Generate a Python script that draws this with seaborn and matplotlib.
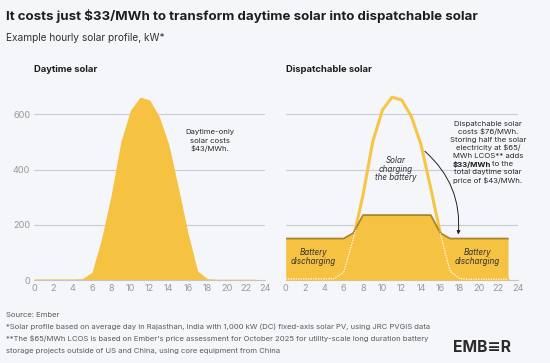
import matplotlib
matplotlib.use("Agg")
import matplotlib.pyplot as plt
import numpy as np
import pandas as pd
import seaborn as sns

# ---------------- data ----------------
hours = list(range(24))
solar_kw = [4, 4, 4, 4, 4, 5, 28, 150, 308, 500, 615, 662, 652, 592, 490, 333, 168, 32, 5, 3, 3, 3, 3, 3]
dispatch_kw = [150, 150, 150, 150, 150, 150, 150, 170, 235, 235, 235, 235, 235, 235, 235, 235,
               170, 150, 150, 150, 150, 150, 150, 150]
x_ticks = list(range(0, 25, 2))
y_ticks = [0, 200, 400, 600]

df = pd.DataFrame({"hour": hours, "solar": solar_kw, "dispatch": dispatch_kw})

# ---------------- style ----------------
BG = "#F5F6FA"
FILL = "#F5C242"
LINE_Y = "#F6C646"
LINE_D = "#A8852E"
GRID = "#C9CDD6"
TICK = "#9A9A9A"
DARK = "#1E1E1E"

sns.set_theme(style="white")
FONT = ["Inter", "DejaVu Sans"]
plt.rcParams["font.family"] = FONT
plt.rcParams["axes.facecolor"] = BG
plt.rcParams["figure.facecolor"] = BG

W, H = 550, 363
fig = plt.figure(figsize=(W / 100, H / 100), dpi=100)


def fx(px):
    return px / W


def fy(py):
    return 1 - py / H


y_top = 700
ax_bottom_px = 280.0
ax_h_px = 700 * (165.7 / 600)
axL = fig.add_axes([fx(34.3), fy(ax_bottom_px), fx(265.0) - fx(34.3), ax_h_px / H])
axR = fig.add_axes([fx(285.7), fy(ax_bottom_px), fx(517.7) - fx(285.7), ax_h_px / H])

for ax in (axL, axR):
    ax.set_facecolor(BG)
    ax.set_xlim(0, 24)
    ax.set_ylim(0, y_top)
    ax.set_xticks(x_ticks)
    ax.set_yticks(y_ticks)
    for yv in y_ticks[1:]:
        ax.axhline(yv, color=GRID, lw=0.8, zorder=0)
    for s in ("top", "right", "left"):
        ax.spines[s].set_visible(False)
    ax.spines["bottom"].set_color("#C4C4C4")
    ax.spines["bottom"].set_linewidth(0.8)
    ax.tick_params(axis="both", length=0, colors=TICK, labelsize=6.6, pad=3)

axR.set_yticklabels([])

# ---- left panel ----
axL.fill_between(df["hour"], 0, df["solar"], color=FILL, lw=0, zorder=2)

# ---- right panel ----
sns.lineplot(data=df, x="hour", y="solar", ax=axR, color=LINE_Y, lw=2.2, zorder=2)
poly = axR.fill_between(df["hour"], 0, df["dispatch"], color=FILL, lw=0, zorder=3)
sns.lineplot(data=df, x="hour", y="dispatch", ax=axR, color=LINE_D, lw=1.3, zorder=4)
sns.lineplot(data=df, x="hour", y="solar", ax=axR, color="white", lw=0.9, zorder=4)
dotted = axR.lines[-1]
dotted.set_linestyle((0, (1, 1)))
dotted.set_clip_path(poly.get_paths()[0], axR.transData)
for ax in (axL, axR):
    ax.set_xlabel("")
    ax.set_ylabel("")

# ---------------- texts ----------------
fig.text(fx(6), fy(16), "It costs just $33/MWh to transform daytime solar into dispatchable solar",
         fontsize=9.6, fontweight="bold", color=DARK, ha="left", va="center")
fig.text(fx(6), fy(38), "Example hourly solar profile, kW*", fontsize=7.3, color="#333333",
         ha="left", va="center")

fig.text(fx(34.3), fy(69), "Daytime solar", fontsize=6.8, fontweight="bold", color=DARK,
         ha="left", va="center")
fig.text(fx(285.7), fy(69), "Dispatchable solar", fontsize=6.8, fontweight="bold", color=DARK,
         ha="left", va="center")

# left annotation
for txt, py in [("Daytime-only", 132.3), ("solar costs", 140.7), ("$43/MWh.", 148.6)]:
    fig.text(fx(210), fy(py), txt, fontsize=5.6, color="#2A2A2A", ha="center", va="center")

# solar charging
for txt, py in [("Solar", 160.7), ("charging", 169.3), ("the battery", 177.3)]:
    fig.text(fx(395.7), fy(py), txt, fontsize=5.8, style="italic", color="#333333",
             ha="center", va="center")

# battery discharging
for cx in (313.3, 477.3):
    for txt, py in [("Battery", 252.7), ("discharging", 261.0)]:
        fig.text(fx(cx), fy(py), txt, fontsize=5.8, style="italic", color="#333333",
                 ha="center", va="center")

# right annotation
right_lines = [("Dispatchable solar", 124.0), ("costs $76/MWh.", 131.7),
               ("Storing half the solar", 140.0), ("electricity at $65/", 147.7),
               ("MWh LCOS** adds", 156.0), (None, 164.0),
               ("total daytime solar", 172.3), ("price of $43/MWh.", 180.7)]
for txt, py in right_lines:
    if txt is None:
        fig.text(fx(491.0), fy(py), "$33/MWh", fontsize=5.6, fontweight="bold", color=DARK,
                 ha="right", va="center")
        fig.text(fx(492.5), fy(py), "to the", fontsize=5.6, color="#2A2A2A",
                 ha="left", va="center")
    else:
        fig.text(fx(488), fy(py), txt, fontsize=5.6, color="#2A2A2A", ha="center", va="center")

# arrow
axR.annotate("", xy=(17.85, 165), xytext=(14.4, 466),
             arrowprops=dict(arrowstyle="-|>", color="#222222", lw=0.7,
                             mutation_scale=5, shrinkA=0, shrinkB=0,
                             connectionstyle="arc3,rad=-0.25"))

# footer
foot = [("Source: Ember", 315.0),
        ("*Solar profile based on average day in Rajasthan, India with 1,000 kW (DC) fixed-axis solar PV, using JRC PVGIS data", 326.7),
        ("**The $65/MWh LCOS is based on Ember's price assessment for October 2025 for utility-scale long duration battery", 338.5),
        ("storage projects outside of US and China, using core equipment from China", 350.7)]
for txt, py in foot:
    fig.text(fx(6), fy(py), txt, fontsize=5.5, color="#5A5A5A", ha="left", va="center")

# logo
fig.text(fx(482.5), fy(347), "EMB\u2261R", fontsize=11.3, fontweight="bold", color="#2B2B2B",
         ha="center", va="center")

fig.savefig("out.png", dpi=100, facecolor=BG)
